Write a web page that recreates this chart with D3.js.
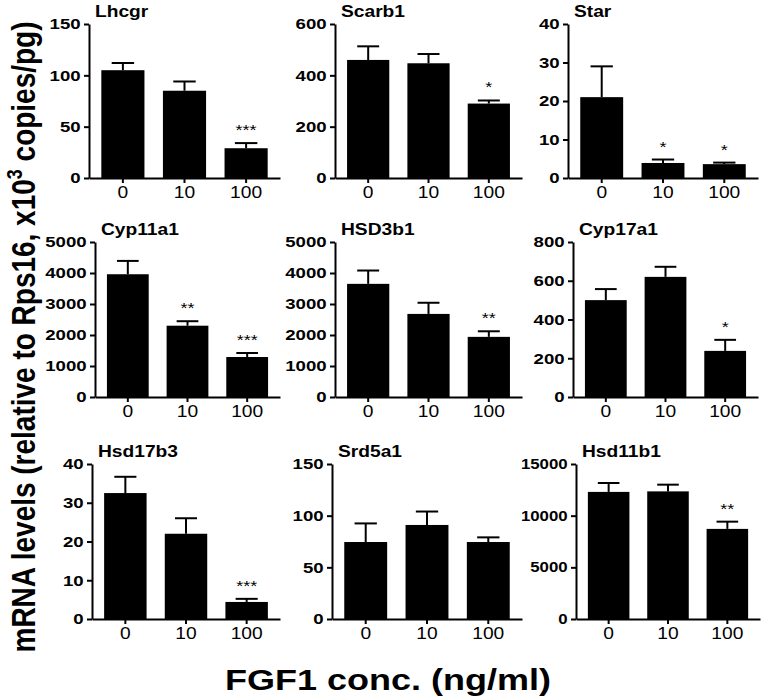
<!DOCTYPE html>
<html lang="en">
<head>
<meta charset="UTF-8">
<title>FGF1 steroidogenic genes</title>
<script src="https://cdn.jsdelivr.net/npm/d3@7"></script>
<style>
  body { margin: 0; background: #fff; }
  svg text { font-family: "Liberation Sans", Arial, sans-serif; fill: #000; }
  .axis path, .axis line { stroke: #000; stroke-width: 2; }
</style>
</head>
<body>
<svg width="765" height="700"></svg>
<script>
// data
const genes = ["Lhcgr", "Scarb1", "Star", "Cyp11a1", "HSD3b1", "Cyp17a1", "Hsd17b3", "Srd5a1", "Hsd11b1"];
const doses = ["0", "10", "100"];
const means = [
  [105, 85, 29],
  [460, 447, 290],
  [21, 3.9, 3.6],
  [3960, 2300, 1290],
  [3650, 2680, 1940],
  [500, 620, 238],
  [32.5, 22, 4.4],
  [74.5, 91, 74.5],
  [12300, 12350, 8720]
];
const sems = [
  [7, 9, 5],
  [53, 36, 12],
  [8, 0.9, 0.4],
  [430, 145, 130],
  [430, 360, 180],
  [57, 52, 57],
  [4.2, 4, 0.8],
  [18, 13, 4.5],
  [860, 650, 700]
];
const yMax = [150, 600, 40, 5000, 5000, 800, 40, 150, 15000];
const yStep = [50, 200, 10, 1000, 1000, 200, 10, 50, 5000];
const stars = [
  ["", "", "***"],
  ["", "", "*"],
  ["", "*", "*"],
  ["", "**", "***"],
  ["", "", "**"],
  ["", "", "*"],
  ["", "", "***"],
  ["", "", ""],
  ["", "", "**"]
];

// panel placement
const axisLeftX = [89, 335, 568, 95, 335, 573, 92, 332, 576];
const axisRightX = [280, 522, 758, 280, 522, 758, 280, 522, 760];
const rowTop = [24, 242, 464];
const rowBase = [178, 397, 619];
const SX = 1.2; // the original glyphs are wider than Arial

const svg = d3.select("svg");

genes.forEach((gene, i) => {
  const row = Math.floor(i / 3);
  const x0 = axisLeftX[i], x1 = axisRightX[i];
  const y0 = rowTop[row], y1 = rowBase[row];

  const x = d3.scaleBand().domain(doses).range([x0, x1])
              .paddingInner(0.3).paddingOuter(0.2);
  const y = d3.scaleLinear().domain([0, yMax[i]]).range([y1, y0]);

  const g = svg.append("g");
  const rows = doses.map((d, j) => ({dose: d, m: means[i][j], e: sems[i][j], s: stars[i][j]}));

  g.selectAll("rect").data(rows).join("rect")
    .attr("x", d => x(d.dose))
    .attr("y", d => y(d.m))
    .attr("width", x.bandwidth())
    .attr("height", d => y1 - y(d.m))
    .attr("fill", "#000");

  // upper error bars only
  const cx = d => x(d.dose) + x.bandwidth() / 2;
  const capW = x.bandwidth() * 0.26;
  g.selectAll("line.err").data(rows).join("line")
    .attr("class", "err")
    .attr("x1", cx).attr("x2", cx)
    .attr("y1", d => y(d.m)).attr("y2", d => y(d.m + d.e))
    .attr("stroke", "#000").attr("stroke-width", 2);
  g.selectAll("line.cap").data(rows).join("line")
    .attr("class", "cap")
    .attr("x1", d => cx(d) - capW).attr("x2", d => cx(d) + capW)
    .attr("y1", d => y(d.m + d.e)).attr("y2", d => y(d.m + d.e))
    .attr("stroke", "#000").attr("stroke-width", 2);

  g.selectAll("text.star").data(rows.filter(d => d.s)).join("text")
    .attr("class", "star")
    .attr("transform", d => `translate(${cx(d)},${y(d.m + d.e) - 8}) scale(${SX},1)`)
    .attr("text-anchor", "middle")
    .attr("font-size", 15)
    .text(d => d.s);

  const yAxis = g.append("g").attr("class", "axis")
    .attr("transform", `translate(${x0},0)`)
    .call(d3.axisLeft(y).tickValues(d3.range(0, yMax[i] + 1, yStep[i]))
            .tickFormat(d3.format("d"))
            .tickSize(5).tickPadding(2).tickSizeOuter(0));
  // five-digit labels are set a little smaller, as in the original
  const tickFont = String(yMax[i]).length > 4 ? 14 : 15.5;
  yAxis.selectAll("text")
    .attr("font-size", tickFont).attr("font-weight", "bold")
    .attr("transform", `scale(${SX},1)`);

  const xAxis = g.append("g").attr("class", "axis")
    .attr("transform", `translate(0,${y1})`)
    .call(d3.axisBottom(x).tickSize(5).tickPadding(4).tickSizeOuter(0));
  xAxis.selectAll("text")
    .attr("font-size", 16)
    .attr("transform", `scale(${SX},1)`);

  g.append("text")
    .attr("transform", `translate(${x0 + 6},${y0 - 7}) scale(${SX},1)`)
    .attr("font-size", 16).attr("font-weight", "bold")
    .text(gene);
});

// axis titles
const yt = svg.append("text")
  .attr("transform", `translate(35,337) scale(${SX},1) rotate(-90)`)
  .attr("text-anchor", "middle")
  .attr("font-size", 28).attr("font-weight", "bold");
yt.append("tspan").text("mRNA levels (relative to Rps16, x10");
yt.append("tspan").attr("font-size", 18).attr("dy", -11).text("3");
yt.append("tspan").attr("dy", 11).text(" copies/pg)");

svg.append("text")
  .attr("transform", `translate(388,690) scale(${SX},1)`)
  .attr("text-anchor", "middle")
  .attr("font-size", 30).attr("font-weight", "bold")
  .text("FGF1 conc. (ng/ml)");
</script>
</body>
</html>
